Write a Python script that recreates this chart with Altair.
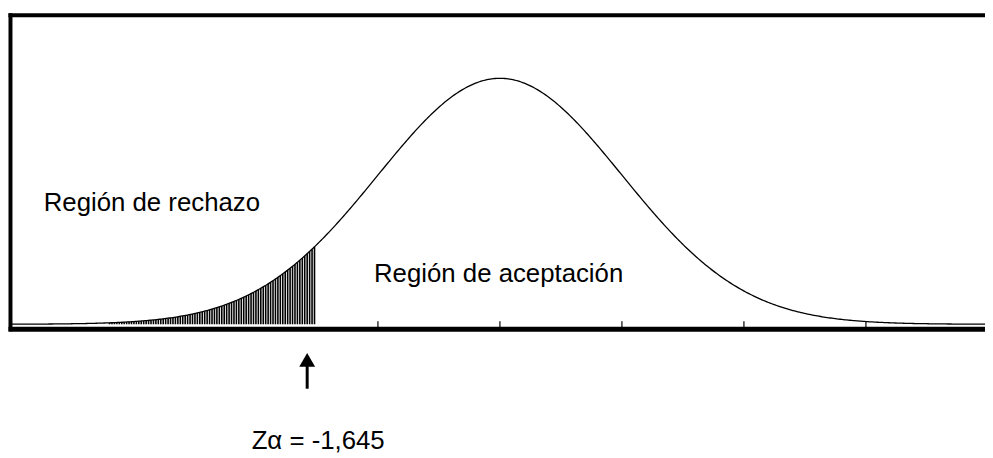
import numpy as np
import pandas as pd
import altair as alt

# ---- data ----
mean_z = 0.0
sd_z = 1.0
z_domain = [-4.016, 3.976]        # visible span of the z axis
dens_domain = [-0.008, 0.502]     # visible span of the density axis
critical_cut = -1.51              # where the hatched region stops (as drawn)
arrow_z = -1.58                   # position of the arrow under the axis
shade_start = -3.2                # where the hatching becomes visible
tick_z = [-1, 0, 1, 2, 3]
label_reject = "Región de rechazo"
label_accept = "Región de aceptación"
label_crit = "Zα = -1,645"

# ---- curve and hatching ----
z_grid = np.linspace(z_domain[0], z_domain[1], 600)
pdf = np.exp(-0.5 * ((z_grid - mean_z) / sd_z) ** 2) / (sd_z * np.sqrt(2 * np.pi))
curve = pd.DataFrame({"z": z_grid, "d": pdf})

z_hatch = np.arange(shade_start, critical_cut + 1e-9, 0.02)
hatch = pd.DataFrame({
    "z": z_hatch,
    "d0": 0.0,
    "d": np.exp(-0.5 * ((z_hatch - mean_z) / sd_z) ** 2) / (sd_z * np.sqrt(2 * np.pi)),
})

ticks = pd.DataFrame({"z": tick_z})
arrow = pd.DataFrame({"z": [arrow_z]})

W, H = 983, 317
xs = alt.Scale(domain=z_domain, nice=False, zero=False)
ys = alt.Scale(domain=dens_domain, nice=False, zero=False)
X = alt.X("z:Q", scale=xs, axis=None)
Y = alt.Y("d:Q", scale=ys, axis=None)

line = alt.Chart(curve).mark_line(color="black", strokeWidth=1.3).encode(x=X, y=Y)

shade = alt.Chart(hatch).mark_rule(color="black", strokeWidth=1.6).encode(
    x=X, y=alt.Y("d0:Q", scale=ys, axis=None), y2="d:Q"
)

tick_marks = alt.Chart(ticks).mark_rule(color="black", strokeWidth=1.2).encode(
    x=X, y=alt.value(309), y2=alt.value(317)
)

dummy = pd.DataFrame({"a": [0]})
left_border = alt.Chart(dummy).mark_rule(color="black", strokeWidth=4).encode(
    x=alt.value(0.5), y=alt.value(-1.5), y2=alt.value(319)
)
top_border = alt.Chart(dummy).mark_rule(color="black", strokeWidth=4).encode(
    x=alt.value(-1.5), x2=alt.value(W), y=alt.value(0.5)
)
bottom_border = alt.Chart(dummy).mark_rule(color="black", strokeWidth=5).encode(
    x=alt.value(-1.5), x2=alt.value(W), y=alt.value(317)
)

font = "Liberation Sans"
txt_reject = alt.Chart(dummy).mark_text(
    text=label_reject, font=font, fontSize=26, align="left", baseline="alphabetic", color="black"
).encode(x=alt.value(34), y=alt.value(198))
txt_accept = alt.Chart(dummy).mark_text(
    text=label_accept, font=font, fontSize=26, align="left", baseline="alphabetic", color="black"
).encode(x=alt.value(367), y=alt.value(269))
txt_crit = alt.Chart(arrow).mark_text(
    text=label_crit, font=font, fontSize=26, align="left", baseline="alphabetic", color="black", dx=-56
).encode(x=X, y=alt.value(438))

shaft = alt.Chart(arrow).mark_rule(color="black", strokeWidth=3).encode(
    x=X, y=alt.value(352), y2=alt.value(377)
)
head = alt.Chart(arrow).mark_point(
    shape="triangle-up", size=256, filled=True, color="black", opacity=1
).encode(x=X, y=alt.value(348))

chart = alt.layer(
    shade, line, tick_marks, left_border, top_border, bottom_border,
    txt_reject, txt_accept, txt_crit, shaft, head
).properties(
    width=W, height=H,
    autosize=alt.AutoSizeParams(type="none"),
    padding={"left": 2, "top": 5, "right": 0, "bottom": 127},
).configure_view(stroke=None).configure(background="white")

chart.save("out.html", embed_options={"renderer": "svg", "actions": False})
